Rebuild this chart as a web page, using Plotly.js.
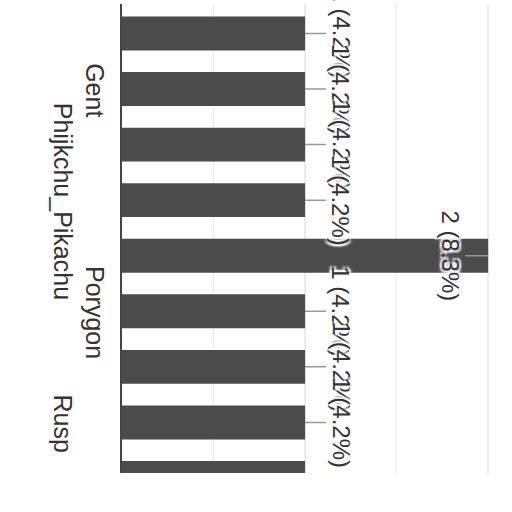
<!DOCTYPE html>
<html>
<head>
<meta charset="utf-8">
<script src="https://cdn.plot.ly/plotly-3.0.1.min.js"></script>
<style>
  html, body { margin: 0; padding: 0; background: #fff; }
  #chart { width: 512px; height: 512px; }
</style>
</head>
<body>
<div id="chart"></div>
<script>
// bars from top to bottom; only every other bar gets a name on the axis
const names = ["row 1", "Gent", "row 3", "Phijkchu_Pikachu", "row 5", "Porygon", "row 7", "Rusp", "row 9"];
const counts = [1, 1, 1, 1, 2, 1, 1, 1, 1];
const shares = [4.2, 4.2, 4.2, 4.2, 8.3, 4.2, 4.2, 4.2, 4.2];
const shownNames = ["Gent", "Phijkchu_Pikachu", "Porygon", "Rusp"];

const font = { family: "Arial, 'Liberation Sans', sans-serif", size: 24, color: "#333" };
const halo = "2px 2px 2px #fff, -2px -2px 2px #fff, 2px -2px 2px #fff, -2px 2px 2px #fff";

// names alternate between two columns (rotated two-line labels)
const tickText = shownNames.map((n, i) => (i % 2 ? "<br>" + n : n + "<br>"));

const maxCount = Math.max(...counts);
const labels = names.map((n, i) => ({
  x: counts[i],
  y: n,
  xref: "x",
  yref: "y",
  text: counts[i] + " (" + shares[i] + "%)",
  textangle: 90,
  showarrow: true,
  arrowhead: 0,
  arrowwidth: 1.5,
  arrowcolor: "#999",
  standoff: 0,
  ax: counts[i] === maxCount ? -38 : 36,
  ay: 0,
  font: { ...font, shadow: halo }
}));

const data = [{
  type: "bar",
  orientation: "h",
  x: counts,
  y: names,
  marker: { color: "#4b4b4b" },
  hoverinfo: "none"
}];

const layout = {
  width: 512,
  height: 512,
  margin: { l: 122, r: 22, t: 4, b: 39 },
  paper_bgcolor: "#fff",
  plot_bgcolor: "#fff",
  font: font,
  showlegend: false,
  bargap: 0.39,
  xaxis: {
    range: [0, 2.01],
    dtick: 0.5,
    showticklabels: false,
    showgrid: true,
    gridcolor: "#ebebeb",
    gridwidth: 1.5,
    zeroline: false
  },
  yaxis: {
    type: "category",
    range: [7.91, -0.53],
    tickmode: "array",
    tickvals: shownNames,
    ticktext: tickText,
    tickangle: 90,
    tickfont: { ...font, size: 25 },
    ticklabelstandoff: 4,
    ticklabelshift: -5,
    showgrid: false,
    zeroline: false,
    showline: true,
    linecolor: "#444",
    linewidth: 2
  },
  annotations: labels
};

Plotly.newPlot("chart", data, layout, { displayModeBar: false, staticPlot: true });
</script>
</body>
</html>
